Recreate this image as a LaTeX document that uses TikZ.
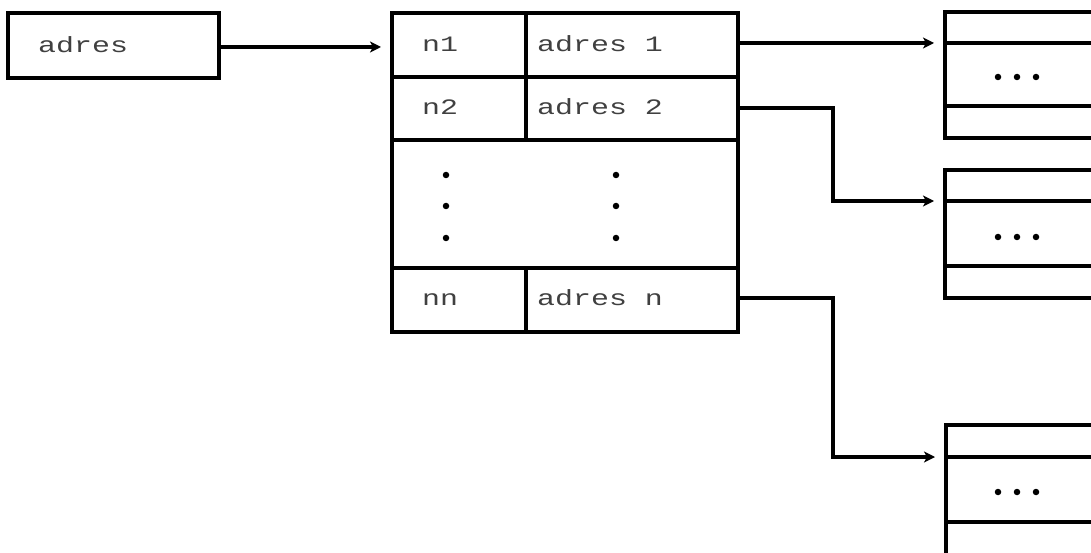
\documentclass[tikz,border=0pt]{standalone}
\usepackage{fontspec}
\newfontfamily\dotfont[FakeStretch=1.36]{Liberation Mono}
\usetikzlibrary{arrows.meta}
\tikzset{
  box/.style={draw, line width=3.4pt, outer sep=0pt, inner sep=0pt, anchor=north west},
  txt/.style={anchor=base west, inner sep=0pt, text=black!75, font=\dotfont\fontsize{22}{22}\selectfont},
  link/.style={line width=3.4pt, -{Stealth[length=11pt,width=11pt,inset=3pt]}},
  dot/.style={circle, fill, inner sep=0pt, minimum size=6.5pt}
}
\begin{document}
\begin{tikzpicture}[x=1pt, y=-1pt]
\clip (0,0) rectangle (1091,553);
\fill[white] (0,0) rectangle (1091,553);

% pointer cell
\node[box, minimum width=211pt, minimum height=65pt] (ptr) at (8,13) {};
\node[txt] (tptr) at (38,53) {adres};

% index table
\node[box, minimum width=134pt, minimum height=64pt] (k1) at (392,13) {};
\node[box, minimum width=212pt, minimum height=64pt] (a1) at (526,13) {};
\node[box, minimum width=134pt, minimum height=63pt] (k2) at (392,77) {};
\node[box, minimum width=212pt, minimum height=63pt] (a2) at (526,77) {};
\node[box, minimum width=346pt, minimum height=128pt] (gap) at (392,140) {};
\node[box, minimum width=134pt, minimum height=64pt] (kn) at (392,268) {};
\node[box, minimum width=212pt, minimum height=64pt] (an) at (526,268) {};

\node[txt] (tk1) at (422,52) {n1};
\node[txt] (ta1) at (537,52) {adres 1};
\node[txt] (tk2) at (422,115) {n2};
\node[txt] (ta2) at (537,115) {adres 2};
\node[txt] (tkn) at (422,305) {nn};
\node[txt] (tan) at (537,305) {adres n};

\foreach \y in {175,206,238} {
  \node[dot] at (446,\y) {};
  \node[dot] at (616,\y) {};
}

% data blocks
\node[box, minimum width=160pt, minimum height=31pt] (b1h) at (945,12) {};
\node[box, minimum width=160pt, minimum height=63pt] (b1m) at (945,43) {};
\node[box, minimum width=160pt, minimum height=32pt] (b1f) at (945,106) {};

\node[box, minimum width=160pt, minimum height=31pt] (b2h) at (945,170) {};
\node[box, minimum width=160pt, minimum height=65pt] (b2m) at (945,201) {};
\node[box, minimum width=160pt, minimum height=32pt] (b2f) at (945,266) {};

\node[box, minimum width=160pt, minimum height=32pt] (b3h) at (946,425) {};
\node[box, minimum width=160pt, minimum height=65pt] (b3m) at (946,457) {};
\node[box, minimum width=160pt, minimum height=50pt] (b3f) at (946,522) {};

\foreach \x in {998,1017,1036} {
  \node[dot] at (\x,77) {};
  \node[dot] at (\x,237) {};
  \node[dot] at (\x,492) {};
}

% connectors
\coordinate (bend2) at (833,108);
\coordinate (bendn) at (833,298);
\draw[link, shorten >=11pt] (ptr.east |- 0,47) -- (k1.west |- 0,47);
\draw[link, shorten >=11pt] (a1.east |- b1m.north west) -- (b1m.north west);
\draw[link, shorten >=11pt] (a2.east |- bend2) -- (bend2) |- (b2m.north west);
\draw[link, shorten >=11pt] (an.east |- bendn) -- (bendn) |- (b3m.north west);
\end{tikzpicture}
\end{document}
